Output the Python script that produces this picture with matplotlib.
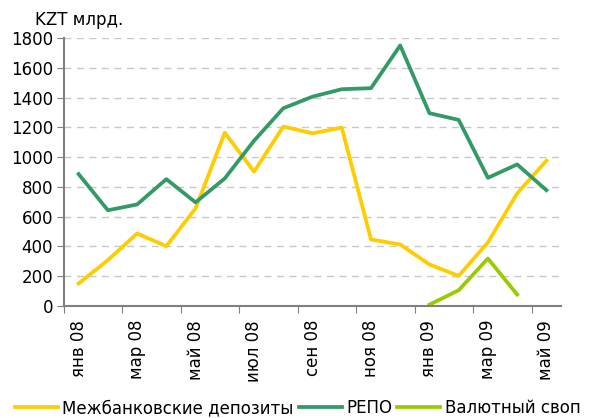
import matplotlib.pyplot as plt

months = ['янв 08', 'фев 08', 'мар 08', 'апр 08', 'май 08', 'июн 08',
          'июл 08', 'авг 08', 'сен 08', 'окт 08', 'ноя 08', 'дек 08',
          'янв 09', 'фев 09', 'мар 09', 'апр 09', 'май 09']
deposits = [151, 308, 487, 402, 655, 1164, 902, 1205, 1160, 1198,
            447, 413, 279, 202, 427, 756, 976]
repo = [886, 643, 682, 852, 696, 857, 1110, 1328, 1406, 1456,
        1463, 1750, 1295, 1250, 861, 951, 778]
swap_months = ['янв 09', 'фев 09', 'мар 09', 'апр 09']
swap = [9, 106, 319, 77]

names = ['Межбанковские депозиты', 'РЕПО', 'Валютный своп']
colors = ['#FFCC00', '#339966', '#99CC00']


def main():
    plt.rcParams['font.family'] = 'DejaVu Sans'
    fig = plt.figure(figsize=(5.95, 4.18), dpi=100)
    ax = fig.add_axes([64 / 595, 1 - 306 / 418, 497 / 595, 268 / 418])

    xs = [i + 0.5 for i in range(len(months))]
    swap_xs = [months.index(m) + 0.5 for m in swap_months]
    ax.plot(xs, deposits, color=colors[0], lw=2.7, label=names[0])
    ax.plot(xs, repo, color=colors[1], lw=2.7, label=names[1])
    ax.plot(swap_xs, swap, color=colors[2], lw=2.7, label=names[2])

    ax.set_xlim(0, len(months))
    ax.set_ylim(0, 1800)
    ax.set_yticks(range(0, 1801, 200))
    ax.yaxis.grid(True, color='#c8c8c8', ls=(0, (5, 4)), lw=1)
    ax.set_axisbelow(True)

    # ticks at category boundaries, labels at centres
    ax.set_xticks(range(0, len(months), 2))
    ax.set_xticklabels([])
    ax.set_xticks(xs[::2], minor=True)
    ax.set_xticklabels(months[::2], minor=True, rotation=90, fontsize=12)
    ax.tick_params(axis='x', which='minor', length=0, pad=10)
    ax.tick_params(axis='x', which='major', length=5, color='#808080')
    ax.tick_params(axis='y', length=5, color='#808080', labelsize=12, pad=3)

    for s in ['top', 'right']:
        ax.spines[s].set_visible(False)
    for s in ['left', 'bottom']:
        ax.spines[s].set_color('#808080')
        ax.spines[s].set_linewidth(1.5)

    fig.text(35 / 595, 1 - 20 / 418, 'KZT млрд.', fontsize=12, va='center')

    fig.legend(loc='center', bbox_to_anchor=(0.5, 1 - 408 / 418), ncol=3,
               frameon=False, fontsize=12, handlelength=2.6,
               handletextpad=0.25, columnspacing=0.3, borderaxespad=0)

    fig.savefig('out.png', dpi=100)


if __name__ == '__main__':
    main()
